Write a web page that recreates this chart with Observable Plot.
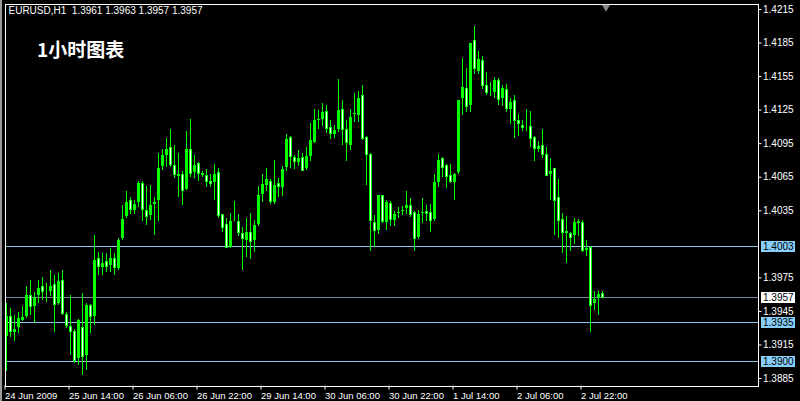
<!DOCTYPE html>
<html><head><meta charset="utf-8">
<script src="https://cdn.jsdelivr.net/npm/d3@7"></script>
<script src="https://cdn.jsdelivr.net/npm/@observablehq/plot@0.6"></script>
<style>
html,body{margin:0;padding:0;background:#000;overflow:hidden}
#chart{position:relative;width:800px;height:401px}
#chart::before{content:"";position:absolute;left:0;top:0;width:2px;height:401px;background:#9a9a9a}
</style></head><body><div id="chart"></div>
<script>
// ---- data (EURUSD H1, bar index 0 = 24 Jun 2009 22:00) ----
const symbol = "EURUSD", period = "H1";
const chartTitle = "1小时图表";
const open = [1.3922,1.3940,1.3926,1.3930,1.3936,1.3940,1.3959,1.3949,1.3959,1.3967,
1.3963,1.3962,1.3969,1.3952,1.3972,1.3942,1.3931,1.3927,1.3902,1.3930,
1.3905,1.3950,1.3940,1.3992,1.3984,1.3989,1.3986,1.3992,1.3983,1.4010,
1.4029,1.4044,1.4035,1.4042,1.4059,1.4035,1.4030,1.4040,1.4044,1.4074,
1.4084,1.4091,1.4075,1.4067,1.4067,1.4054,1.4089,1.4069,1.4077,1.4068,
1.4066,1.4061,1.4060,1.4069,1.4031,1.4022,1.4002,1.4026,1.4025,1.4014,
1.4008,1.4015,1.4008,1.4022,1.4049,1.4057,1.4061,1.4042,1.4059,1.4055,
1.4073,1.4100,1.4082,1.4078,1.4082,1.4072,1.4083,1.4096,1.4115,1.4116,
1.4123,1.4109,1.4103,1.4107,1.4125,1.4107,1.4093,1.4121,1.4120,1.4138,
1.4100,1.4085,1.4024,1.4017,1.4048,1.4024,1.4041,1.4026,1.4032,1.4034,
1.4037,1.4039,1.4033,1.4011,1.4032,1.4034,1.4033,1.4027,1.4060,1.4081,
1.4075,1.4066,1.4060,1.4069,1.4135,1.4144,1.4129,1.4187,1.4159,1.4169,
1.4147,1.4141,1.4140,1.4151,1.4135,1.4143,1.4125,1.4133,1.4115,1.4111,
1.4110,1.4110,1.4100,1.4089,1.4093,1.4085,1.4067,1.4072,1.4046,1.4027,
1.4016,1.4014,1.4012,1.4025,1.4024,1.3999,1.4002,1.3952,1.3957,1.3961];
const high = [1.3952,1.3948,1.3941,1.3944,1.3949,1.3967,1.3973,1.3962,1.3973,1.3975,
1.3970,1.3982,1.3977,1.3979,1.3982,1.3944,1.3959,1.3929,1.3938,1.3961,
1.3952,1.3951,1.4013,1.3998,1.3997,1.3997,1.4001,1.3997,1.4010,1.4040,
1.4052,1.4047,1.4044,1.4061,1.4061,1.4057,1.4058,1.4047,1.4086,1.4090,
1.4100,1.4108,1.4093,1.4086,1.4070,1.4106,1.4117,1.4084,1.4078,1.4070,
1.4072,1.4067,1.4076,1.4073,1.4032,1.4028,1.4033,1.4043,1.4032,1.4020,
1.4028,1.4033,1.4026,1.4057,1.4067,1.4073,1.4063,1.4080,1.4064,1.4075,
1.4103,1.4101,1.4084,1.4089,1.4086,1.4092,1.4113,1.4126,1.4125,1.4131,
1.4129,1.4116,1.4111,1.4152,1.4134,1.4116,1.4126,1.4140,1.4142,1.4147,
1.4101,1.4086,1.4031,1.4049,1.4049,1.4044,1.4043,1.4034,1.4038,1.4039,
1.4052,1.4046,1.4034,1.4035,1.4046,1.4040,1.4041,1.4067,1.4085,1.4083,
1.4076,1.4076,1.4068,1.4134,1.4171,1.4162,1.4185,1.4200,1.4177,1.4173,
1.4159,1.4150,1.4154,1.4153,1.4147,1.4148,1.4135,1.4138,1.4121,1.4116,
1.4126,1.4124,1.4101,1.4097,1.4108,1.4092,1.4082,1.4073,1.4063,1.4033,
1.4030,1.4016,1.4028,1.4027,1.4026,1.4008,1.4003,1.3963,1.3963,1.3963];
const low = [1.3891,1.3922,1.3918,1.3925,1.3936,1.3939,1.3941,1.3934,1.3952,1.3955,
1.3953,1.3958,1.3926,1.3950,1.3941,1.3930,1.3906,1.3898,1.3897,1.3888,
1.3892,1.3925,1.3932,1.3977,1.3977,1.3980,1.3980,1.3977,1.3982,1.4008,
1.4028,1.4032,1.4032,1.4038,1.4025,1.4022,1.4026,1.4013,1.4025,1.4071,
1.4074,1.4074,1.4064,1.4047,1.4040,1.4053,1.4065,1.4064,1.4061,1.4065,
1.4056,1.4056,1.4044,1.4028,1.4016,1.4001,1.4001,1.4025,1.4012,1.3982,
1.3993,1.3991,1.3998,1.4021,1.4042,1.4052,1.4041,1.4041,1.4047,1.4048,
1.4070,1.4073,1.4072,1.4075,1.4070,1.4071,1.4079,1.4095,1.4108,1.4110,
1.4104,1.4099,1.4100,1.4105,1.4093,1.4079,1.4089,1.4114,1.4114,1.4098,
1.4058,1.3999,1.4002,1.4014,1.4024,1.4017,1.4021,1.4021,1.4028,1.4031,
1.4032,1.4029,1.3999,1.4009,1.4024,1.4025,1.4016,1.4025,1.4056,1.4065,
1.4055,1.4059,1.4044,1.4067,1.4120,1.4123,1.4123,1.4157,1.4157,1.4143,
1.4138,1.4137,1.4135,1.4129,1.4128,1.4123,1.4112,1.4100,1.4101,1.4106,
1.4106,1.4092,1.4079,1.4087,1.4082,1.4066,1.4044,1.4013,1.4010,1.3997,
1.3988,1.3999,1.4005,1.4012,1.3998,1.3994,1.3926,1.3946,1.3941,1.3957];
const close = [1.3941,1.3927,1.3929,1.3939,1.3940,1.3960,1.3949,1.3958,1.3966,1.3962,
1.3964,1.3968,1.3951,1.3972,1.3943,1.3932,1.3927,1.3901,1.3937,1.3904,
1.3951,1.3940,1.3991,1.3985,1.3988,1.3985,1.3993,1.3984,1.4009,1.4028,
1.4043,1.4036,1.4041,1.4060,1.4036,1.4029,1.4040,1.4043,1.4073,1.4085,
1.4090,1.4076,1.4067,1.4066,1.4053,1.4090,1.4068,1.4076,1.4068,1.4067,
1.4061,1.4059,1.4068,1.4030,1.4020,1.4002,1.4026,1.4027,1.4015,1.4010,
1.4016,1.4007,1.4022,1.4049,1.4059,1.4063,1.4043,1.4058,1.4056,1.4072,
1.4099,1.4083,1.4079,1.4082,1.4071,1.4084,1.4098,1.4116,1.4117,1.4123,
1.4108,1.4104,1.4107,1.4125,1.4107,1.4096,1.4119,1.4122,1.4136,1.4099,
1.4085,1.4026,1.4017,1.4049,1.4025,1.4043,1.4027,1.4032,1.4034,1.4036,
1.4040,1.4031,1.4010,1.4032,1.4034,1.4032,1.4026,1.4061,1.4080,1.4073,
1.4065,1.4061,1.4068,1.4134,1.4146,1.4128,1.4185,1.4162,1.4171,1.4147,
1.4140,1.4142,1.4152,1.4134,1.4145,1.4126,1.4132,1.4115,1.4113,1.4109,
1.4111,1.4099,1.4090,1.4093,1.4085,1.4066,1.4071,1.4044,1.4026,1.4015,
1.4015,1.4011,1.4025,1.4024,1.3999,1.4002,1.3950,1.3956,1.3961,1.3957];

const xTickBars = [0,16,32,48,64,80,96,112,128,144];
const xTickLabels = ["24 Jun 2009","25 Jun 14:00","26 Jun 06:00","26 Jun 22:00","29 Jun 14:00",
  "30 Jun 06:00","30 Jun 22:00","1 Jul 14:00","2 Jul 06:00","2 Jul 22:00"];
// 1.4005 sits under the 1.4003 price box in the reference, so it is not drawn
const yTicks = [1.4215,1.4185,1.4155,1.4125,1.4095,1.4065,1.4035,1.3975,1.3945,1.3915,1.3885];
const levels = [1.4003, 1.3957, 1.3935, 1.3900];
const levelKinds = ["line","bid","line","line"];

// ---- drawing ----
const n = open.length;
const idx = d3.range(n);
const last = n - 1;
const header = `${symbol},${period}\u00a0 ${open[last].toFixed(4)} ${high[last].toFixed(4)} ${low[last].toFixed(4)} ${close[last].toFixed(4)}`;
const LIME = "#00ff00";
const xMax = 188;           // right edge of the price pane, in bar units
const boxFrom = xMax + 0.8, boxTo = xMax + 9.4;
const bears = idx.filter(i => open[i] - close[i] > 0.00015);

const chart = Plot.plot({
  width: 800, height: 401,
  marginLeft: 4.5, marginRight: 42.5, marginTop: 3.5, marginBottom: 15.5,
  x: {type: "linear", domain: [-0.25, xMax]},
  y: {type: "linear", domain: [1.38783, 1.42199]},
  style: {background: "#000", color: "#fff", fontFamily: "Liberation Sans", overflow: "visible"},
  marks: [
    Plot.ruleY(levels, {y: d => d, stroke: (d, i) => levelKinds[i] === "bid" ? "#76889c" : "#8ec8f0", shapeRendering: "crispEdges"}),
    Plot.ruleX(idx, {x: i => i, y1: i => low[i], y2: i => high[i], stroke: LIME, strokeWidth: 1, shapeRendering: "crispEdges"}),
    Plot.ruleX(idx, {x: i => i, y1: i => open[i], y2: i => close[i], stroke: LIME, strokeWidth: 3, insetTop: -0.5, insetBottom: -0.5, shapeRendering: "crispEdges"}),
    Plot.ruleX(bears, {x: i => i, y1: i => open[i], y2: i => close[i], stroke: "#fff", strokeWidth: 1, insetTop: 0.5, insetBottom: 0.5, shapeRendering: "crispEdges"}),
    Plot.frame({stroke: "#fff", shapeRendering: "crispEdges"}),
    Plot.axisY(yTicks, {anchor: "right", tickSize: 3, tickPadding: 2, tickFormat: d => d.toFixed(4), fontSize: 10, fill: "#fff", stroke: "#fff"}),
    Plot.axisX(xTickBars, {anchor: "bottom", tickSize: 4, tickPadding: 2, tickFormat: d => xTickLabels[xTickBars.indexOf(d)], textAnchor: "start", dx: -1, fontSize: 9.5, fill: "#fff", stroke: "#fff"}),
    Plot.ruleY(levels, {y: d => d, x1: () => boxFrom, x2: () => boxTo, strokeWidth: 11, stroke: (d, i) => levelKinds[i] === "bid" ? "#ffffff" : "#87cefa", shapeRendering: "crispEdges"}),
    Plot.text(levels, {y: d => d, text: d => d.toFixed(4), frameAnchor: "right", textAnchor: "start", dx: 5, fill: "#000", fontSize: 10}),
    Plot.text([header], {frameAnchor: "top-left", dx: 3.5, dy: 6.5, textAnchor: "start", lineAnchor: "middle", fontSize: 10, fill: "#fff"}),
    Plot.text([chartTitle], {frameAnchor: "top-left", dx: 32, dy: 47, textAnchor: "start", lineAnchor: "middle", fontSize: 19, fontWeight: "bold", fontFamily: "Noto Sans CJK SC", fill: "#fff"}),
    Plot.dot([n], {x: d => d, frameAnchor: "top", symbol: "triangle", r: 3, rotate: 180, fill: "#8a8a8a", stroke: "none", dy: 3})
  ]
});
document.getElementById("chart").appendChild(chart);
</script></body></html>
